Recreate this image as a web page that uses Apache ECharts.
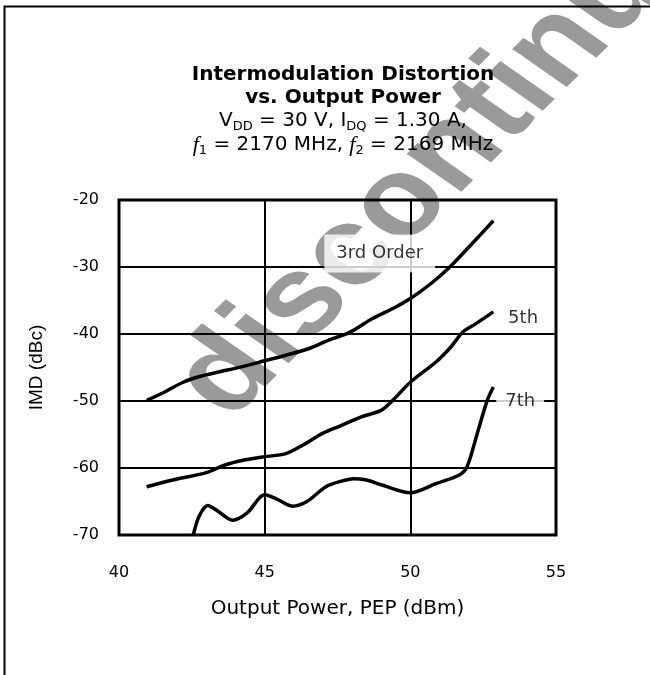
<!DOCTYPE html>
<html>
<head>
<meta charset="utf-8">
<script src="https://cdn.jsdelivr.net/npm/echarts@6/dist/echarts.min.js"></script>
<style>
html, body { margin: 0; padding: 0; background: #fff; }
#main { width: 650px; height: 675px; }
</style>
</head>
<body>
<div id="main"></div>
<script>
// IMD vs output power
var xTicks = [40, 45, 50, 55];
var yTicks = [-70, -60, -50, -40, -30, -20];

var third = [
    [40.95, -49.9], [41.5, -48.8], [42.2, -47.2], [42.8, -46.3], [43.5, -45.6],
    [44.2, -44.9], [45.0, -44.0], [45.7, -43.2], [46.5, -42.2], [47.2, -40.9],
    [47.9, -39.8], [48.7, -37.7], [49.4, -36.2], [50.0, -34.7], [50.7, -32.5],
    [51.4, -29.8], [52.1, -26.6], [52.85, -23.1]
];
var fifth = [
    [40.95, -62.8], [41.85, -61.8], [43.0, -60.7], [43.6, -59.6], [44.3, -58.8],
    [45.0, -58.3], [45.7, -57.9], [46.35, -56.5], [47.0, -54.8], [47.6, -53.7],
    [48.3, -52.4], [49.0, -51.4], [49.35, -50.1], [50.0, -47.2], [50.9, -44.1],
    [51.4, -41.9], [51.8, -39.7], [52.2, -38.6], [52.85, -36.7]
];
var seventh = [
    [42.55, -70], [42.75, -67.2], [43.05, -65.6], [43.35, -66.3], [43.9, -67.8],
    [44.4, -66.7], [45.0, -64.0], [45.4, -64.6], [45.95, -65.7], [46.45, -65.0],
    [47.1, -62.8], [47.6, -62.0], [48.05, -61.6], [48.5, -61.8], [49.0, -62.5],
    [50.0, -63.7], [50.9, -62.3], [51.7, -61.0], [51.95, -59.8], [52.3, -54.8],
    [52.64, -49.9], [52.85, -47.9]
];
var curveNames = ['3rd Order', '5th', '7th'];
var labelSpots = [[48.95, -28.0], [53.87, -37.7], [53.77, -50.0]];

var font = 'DejaVu Sans';

var myChart = echarts.init(document.getElementById('main'));

function curve(name, data) {
    return {
        name: name,
        type: 'line',
        data: data,
        smooth: 0.3,
        showSymbol: false,
        lineStyle: { color: '#000', width: 3.5 },
        z: 3
    };
}

var option = {
    backgroundColor: '#fff',
    animation: false,
    grid: {
        left: 119, right: 94, top: 200, bottom: 140,
        show: true, borderColor: '#000', borderWidth: 3,
        backgroundColor: 'transparent'
    },
    xAxis: {
        type: 'value',
        min: xTicks[0], max: xTicks[xTicks.length - 1], interval: 5,
        name: 'Output Power, PEP (dBm)',
        nameLocation: 'middle', nameGap: 64,
        nameTextStyle: { fontFamily: font, fontSize: 20, color: '#000' },
        axisLine: { show: false },
        axisTick: { show: false },
        axisLabel: { margin: 30, fontFamily: font, fontSize: 16, color: '#000' },
        splitLine: { show: true, lineStyle: { color: '#000', width: 2 } }
    },
    yAxis: {
        type: 'value',
        min: yTicks[0], max: yTicks[yTicks.length - 1], interval: 10,
        name: 'IMD (dBc)',
        nameLocation: 'middle', nameGap: 73,
        nameMoveOverlap: false,
        nameTextStyle: { fontFamily: 'Liberation Sans', fontSize: 19, color: '#000' },
        axisLine: { show: false },
        axisTick: { show: false },
        axisLabel: { margin: 20, fontFamily: font, fontSize: 16, color: '#000' },
        splitLine: { show: true, lineStyle: { color: '#000', width: 2 } }
    },
    series: [
        curve(curveNames[0], third),
        curve(curveNames[1], fifth),
        curve(curveNames[2], seventh),
        {
            type: 'scatter',
            symbolSize: 0,
            z: 4,
            data: labelSpots.map(function (p, i) {
                var pad = i === 0 ? [10, 12] : (i === 1 ? [2, 2] : [6, 9]);
                return {
                    value: p,
                    label: {
                        show: true,
                        position: 'inside',
                        formatter: curveNames[i],
                        fontFamily: font,
                        fontSize: 18,
                        color: '#000',
                        backgroundColor: '#fff',
                        padding: pad
                    }
                };
            }),
            silent: true
        }
    ],
    graphic: [
        {
            // gray watermark, stretched a bit sideways like the scan
            type: 'group',
            x: 470, y: 135,
            scaleX: 1.2,
            z: -1,
            children: [{
                type: 'text',
                rotation: 50 * Math.PI / 180,
                z: -1,
                style: {
                    text: 'discontinued',
                    fontFamily: 'Liberation Sans', fontWeight: 'bold', fontSize: 112,
                    fill: '#9a9a9a', align: 'center', verticalAlign: 'middle'
                }
            }]
        },
        {
            type: 'rect',
            shape: { x: 4.5, y: 6.5, width: 700, height: 700 },
            style: { fill: 'none', stroke: '#000', lineWidth: 2 },
            z: 1
        },
        {
            type: 'text',
            x: 343, y: 86,
            style: {
                text: 'Intermodulation Distortion\nvs. Output Power',
                fontFamily: font, fontWeight: 'bold', fontSize: 20,
                lineHeight: 23,
                fill: '#000', align: 'center', verticalAlign: 'middle'
            },
            z: 5
        },
        {
            type: 'text',
            x: 343, y: 121,
            style: {
                text: 'V{s|DD} = 30 V, I{s|DQ} = 1.30 A,',
                fontFamily: font, fontSize: 20,
                fill: '#000', align: 'center', verticalAlign: 'middle',
                rich: {
                    s: { fontFamily: font, fontSize: 13, padding: [11, 0, 0, 0], fill: '#000' }
                }
            },
            z: 5
        },
        {
            type: 'text',
            x: 343, y: 145,
            style: {
                text: '{f|f}{s|1} = 2170 MHz, {f|f}{s|2} = 2169 MHz',
                fontFamily: font, fontSize: 20,
                fill: '#000', align: 'center', verticalAlign: 'middle',
                rich: {
                    f: { fontFamily: 'Liberation Serif', fontStyle: 'italic', fontSize: 22, fill: '#000' },
                    s: { fontFamily: font, fontSize: 13, padding: [11, 0, 0, 0], fill: '#000' }
                }
            },
            z: 5
        }
    ]
};
myChart.setOption(option);
</script>
</body>
</html>
